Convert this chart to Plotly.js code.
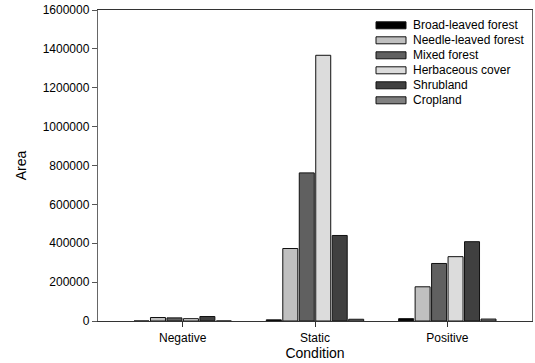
<!DOCTYPE html>
<html>
<head>
<meta charset="utf-8">
<script src="https://cdn.plot.ly/plotly-3.0.1.min.js"></script>
<style>html,body{margin:0;padding:0;background:#fff;}#chart{width:535px;height:363px;}</style>
</head>
<body>
<div id="chart"></div>
<script>
var conditions = ['Negative', 'Static', 'Positive'];
var seriesNames = ['Broad-leaved forest', 'Needle-leaved forest', 'Mixed forest', 'Herbaceous cover', 'Shrubland', 'Cropland'];
var broadLeaved = [0, 6000, 12000];
var needleLeaved = [18000, 373000, 176000];
var mixedForest = [16000, 762000, 296000];
var herbaceous = [12000, 1367000, 331000];
var shrubland = [23000, 440000, 408000];
var cropland = [0, 9000, 10000];
var yTicks = [0, 200000, 400000, 600000, 800000, 1000000, 1200000, 1400000, 1600000];

var allValues = [broadLeaved, needleLeaved, mixedForest, herbaceous, shrubland, cropland];
var fills = ['#000000', '#c0c0c0', '#606060', '#dcdcdc', '#404040', '#808080'];

var FONT = 'Liberation Sans, Arial, sans-serif';
var W = 535, H = 363;
var L = 98, R = 3, T = 10, B = 42;
var pw = W - L - R, ph = H - T - B;

var traces = seriesNames.map(function (name, i) {
  return {
    type: 'bar',
    name: name,
    x: conditions,
    y: allValues[i],
    marker: {color: fills[i], line: {color: '#111', width: 1}},
    showlegend: false,
    hoverinfo: 'x+y+name'
  };
});

// custom legend (compact rows like the reference)
var shapes = [], annotations = [];
function px2x(p) { return (p - L) / pw; }
function py2y(p) { return (H - B - p) / ph; }
seriesNames.forEach(function (name, i) {
  var cy = 25.3 + i * 15;
  shapes.push({
    type: 'rect', xref: 'paper', yref: 'paper',
    x0: px2x(376), x1: px2x(406), y0: py2y(cy + 3.5), y1: py2y(cy - 3.5),
    fillcolor: fills[i], line: {color: '#111', width: 1}
  });
  annotations.push({
    xref: 'paper', yref: 'paper', x: px2x(411), y: py2y(cy),
    xanchor: 'left', yanchor: 'middle', showarrow: false,
    text: name, font: {family: FONT, size: 12, color: '#000'}
  });
});

var layout = {
  width: W, height: H,
  margin: {l: L, r: R, t: T, b: B, pad: 0},
  paper_bgcolor: '#fff', plot_bgcolor: '#fff',
  font: {family: FONT, size: 12, color: '#000'},
  barmode: 'group',
  bargap: 0.253,
  bargroupgap: 0.09,
  showlegend: false,
  xaxis: {
    type: 'category',
    range: [-0.64, 2.64],
    showgrid: false, zeroline: false,
    showline: true, linecolor: '#333', linewidth: 1.2, mirror: true,
    ticks: 'outside', ticklen: 5, tickcolor: '#333', tickwidth: 1,
    tickfont: {family: FONT, size: 12, color: '#000'},
    title: {text: 'Condition', font: {family: FONT, size: 14, color: '#000'}, standoff: 2}
  },
  yaxis: {
    range: [0, 1600000],
    tickvals: yTicks,
    tickformat: 'd',
    showgrid: false, zeroline: false,
    showline: true, linecolor: '#666', linewidth: 1.2, mirror: true,
    ticks: 'outside', ticklen: 5, tickcolor: '#555', tickwidth: 1,
    tickfont: {family: FONT, size: 12, color: '#000'},
    title: {text: 'Area', font: {family: FONT, size: 14, color: '#000'}, standoff: 12}
  },
  shapes: shapes,
  annotations: annotations
};

Plotly.newPlot('chart', traces, layout, {displayModeBar: false, staticPlot: true});
</script>
</body>
</html>
